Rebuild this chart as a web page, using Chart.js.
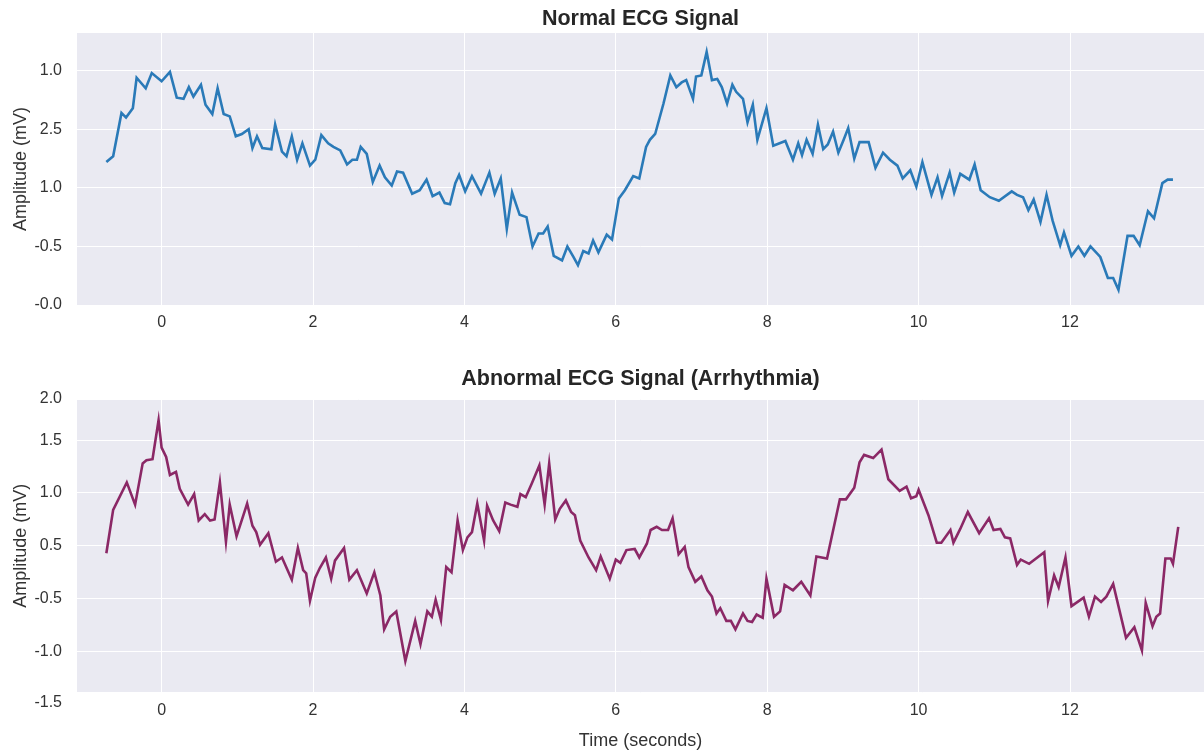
<!DOCTYPE html>
<html>
<head>
<meta charset="utf-8">
<script src="https://cdn.jsdelivr.net/npm/chart.js@4.4.1/dist/chart.umd.min.js"></script>
<style>
  html, body { margin: 0; padding: 0; background: #ffffff; }
  #wrap { position: relative; width: 1204px; height: 753px; overflow: hidden; }
  #top { position: absolute; left: 0; top: 0; }
  #bottom { position: absolute; left: 0; top: 350px; }
</style>
</head>
<body>
<div id="wrap">
  <canvas id="top" width="1204" height="350"></canvas>
  <canvas id="bottom" width="1204" height="403"></canvas>
</div>
<script>
// ---------------- DATA ----------------
const normalTime = [-0.73,-0.64,-0.53,-0.47,-0.38,-0.33,-0.21,-0.13,0.00,0.11,0.20,0.29,0.36,0.42,0.52,0.58,0.67,0.74,0.82,0.90,0.98,1.06,1.15,1.20,1.26,1.33,1.45,1.50,1.59,1.65,1.72,1.79,1.86,1.96,2.03,2.11,2.20,2.27,2.36,2.45,2.52,2.58,2.63,2.71,2.79,2.88,2.95,3.04,3.11,3.19,3.31,3.41,3.50,3.58,3.67,3.74,3.81,3.88,3.93,4.01,4.10,4.22,4.33,4.40,4.48,4.56,4.63,4.73,4.82,4.90,4.98,5.04,5.10,5.18,5.29,5.36,5.44,5.50,5.57,5.64,5.70,5.77,5.88,5.95,6.04,6.12,6.23,6.31,6.40,6.45,6.52,6.63,6.72,6.80,6.87,6.93,7.02,7.06,7.13,7.20,7.27,7.34,7.40,7.47,7.54,7.59,7.68,7.74,7.81,7.87,7.99,8.08,8.24,8.34,8.41,8.46,8.52,8.60,8.67,8.74,8.80,8.87,8.94,9.01,9.07,9.15,9.22,9.34,9.43,9.53,9.62,9.72,9.79,9.89,9.97,10.05,10.17,10.25,10.31,10.41,10.47,10.55,10.67,10.74,10.82,10.94,11.06,11.23,11.30,11.38,11.45,11.52,11.61,11.69,11.77,11.87,11.92,12.02,12.11,12.19,12.27,12.40,12.50,12.57,12.64,12.76,12.84,12.92,13.03,13.11,13.22,13.29,13.36];
const normalAmp = [0.22,0.27,0.64,0.60,0.68,0.94,0.85,0.98,0.91,0.99,0.77,0.76,0.86,0.78,0.88,0.71,0.63,0.85,0.63,0.61,0.44,0.46,0.50,0.34,0.44,0.34,0.33,0.54,0.31,0.27,0.44,0.24,0.38,0.19,0.24,0.45,0.38,0.35,0.32,0.20,0.24,0.24,0.35,0.29,0.05,0.19,0.09,0.02,0.14,0.13,-0.05,-0.02,0.07,-0.07,-0.04,-0.13,-0.14,0.04,0.11,-0.03,0.10,-0.05,0.13,-0.05,0.08,-0.35,-0.04,-0.23,-0.25,-0.50,-0.39,-0.39,-0.33,-0.58,-0.62,-0.50,-0.59,-0.66,-0.54,-0.56,-0.45,-0.55,-0.40,-0.44,-0.09,-0.02,0.10,0.08,0.35,0.41,0.46,0.72,0.96,0.86,0.90,0.92,0.76,0.95,0.96,1.16,0.92,0.93,0.86,0.72,0.88,0.82,0.76,0.56,0.71,0.41,0.68,0.36,0.40,0.24,0.38,0.28,0.41,0.29,0.54,0.33,0.37,0.48,0.30,0.41,0.51,0.25,0.39,0.39,0.17,0.30,0.24,0.19,0.08,0.15,0.01,0.22,-0.06,0.09,-0.07,0.13,-0.04,0.12,0.07,0.20,-0.02,-0.08,-0.11,-0.03,-0.06,-0.08,-0.19,-0.10,-0.29,-0.06,-0.28,-0.49,-0.38,-0.58,-0.50,-0.58,-0.50,-0.59,-0.77,-0.77,-0.87,-0.41,-0.41,-0.49,-0.20,-0.26,0.04,0.07,0.07];

const abnormalTime = [-0.73,-0.64,-0.46,-0.35,-0.25,-0.20,-0.12,-0.04,0.00,0.06,0.11,0.19,0.24,0.35,0.43,0.49,0.57,0.64,0.70,0.77,0.85,0.90,0.99,1.13,1.20,1.25,1.30,1.41,1.51,1.59,1.72,1.80,1.87,1.91,1.96,2.03,2.09,2.17,2.24,2.29,2.41,2.48,2.58,2.71,2.81,2.89,2.94,3.02,3.10,3.22,3.35,3.42,3.51,3.57,3.62,3.69,3.76,3.83,3.91,3.98,4.04,4.10,4.17,4.26,4.30,4.38,4.46,4.54,4.61,4.70,4.74,4.81,4.89,4.99,5.06,5.12,5.20,5.26,5.34,5.41,5.46,5.53,5.64,5.74,5.80,5.92,6.00,6.06,6.14,6.25,6.31,6.41,6.46,6.54,6.61,6.69,6.75,6.83,6.91,6.96,7.05,7.13,7.21,7.27,7.33,7.38,7.46,7.52,7.58,7.68,7.74,7.80,7.86,7.91,7.94,7.99,8.09,8.17,8.23,8.34,8.45,8.57,8.65,8.79,8.96,9.04,9.15,9.22,9.28,9.40,9.51,9.60,9.75,9.84,9.90,9.97,10.00,10.13,10.24,10.30,10.42,10.46,10.55,10.65,10.80,10.93,10.99,11.08,11.14,11.21,11.30,11.35,11.46,11.66,11.71,11.79,11.85,11.94,12.02,12.18,12.25,12.33,12.41,12.48,12.57,12.74,12.85,12.95,13.00,13.09,13.14,13.19,13.26,13.33,13.36,13.43];
const abnormalAmp = [0.43,0.84,1.10,0.89,1.28,1.31,1.32,1.69,1.43,1.34,1.17,1.20,1.04,0.89,0.99,0.74,0.80,0.74,0.75,1.10,0.54,0.89,0.59,0.90,0.69,0.63,0.51,0.62,0.35,0.39,0.18,0.48,0.27,0.24,-0.02,0.20,0.29,0.39,0.19,0.36,0.48,0.18,0.27,0.05,0.25,0.03,-0.29,-0.17,-0.12,-0.59,-0.21,-0.43,-0.12,-0.17,-0.01,-0.20,0.30,0.25,0.74,0.46,0.58,0.63,0.90,0.55,0.88,0.74,0.64,0.91,0.89,0.87,0.99,0.96,1.09,1.26,0.89,1.28,0.75,0.85,0.93,0.82,0.79,0.55,0.39,0.27,0.40,0.19,0.37,0.34,0.46,0.47,0.39,0.52,0.65,0.68,0.65,0.65,0.76,0.42,0.49,0.30,0.16,0.21,0.08,0.02,-0.14,-0.09,-0.21,-0.21,-0.29,-0.14,-0.21,-0.22,-0.15,-0.17,-0.18,0.19,-0.17,-0.12,0.13,0.08,0.16,0.03,0.40,0.38,0.94,0.94,1.05,1.29,1.36,1.33,1.41,1.13,1.02,1.06,0.95,0.97,1.03,0.79,0.53,0.53,0.65,0.53,0.66,0.82,0.62,0.76,0.65,0.66,0.58,0.57,0.32,0.37,0.33,0.44,-0.02,0.22,0.11,0.39,-0.07,0.01,-0.17,0.02,-0.03,0.02,0.14,-0.37,-0.27,-0.49,-0.04,-0.26,-0.17,-0.14,0.38,0.38,0.33,0.68];

const xTicks = [0, 2, 4, 6, 8, 10, 12];
const topYTicks = [-1.0, -0.5, 0.0, 0.5, 1.0];
const topYLabels = ['-0.0', '-0.5', '1.0', '2.5', '1.0'];
const bottomYTicks = [-0.889, -0.5, 0.0, 0.5, 1.0, 1.5, 1.889];
const bottomYLabels = ['-1.5', '-1.0', '-0.5', '0.5', '1.0', '1.5', '2.0'];

const xRange = [-1.1176, 13.770];
const topYRange = [-1.0, 1.322];
const bottomYRange = [-0.889, 1.889];

// ---------------- STYLE ----------------
const FONT = "'Liberation Sans', Arial, sans-serif";
const TEXT = '#333333';

const bgPlugin = {
  id: 'plotBg',
  beforeDraw(chart) {
    const a = chart.chartArea;
    const ctx = chart.ctx;
    ctx.save();
    ctx.fillStyle = '#EAEAF2';
    ctx.fillRect(a.left, a.top, a.right - a.left, a.bottom - a.top);
    ctx.restore();
  }
};

function pts(ts, vs) { return ts.map((t, i) => ({ x: t, y: vs[i] })); }

function makeChart(id, cfg) {
  return new Chart(document.getElementById(id), {
    type: 'line',
    data: {
      datasets: [{
        data: pts(cfg.t, cfg.v),
        borderColor: cfg.color,
        borderWidth: 2.6,
        pointRadius: 0,
        tension: 0,
        fill: false
      }]
    },
    options: {
      responsive: false,
      animation: false,
      devicePixelRatio: 1,
      layout: { padding: 0 },
      plugins: {
        legend: { display: false },
        tooltip: { enabled: false },
        title: {
          display: true,
          fullSize: false,
          text: cfg.title,
          color: '#262626',
          font: { family: FONT, size: 21.5, weight: 'bold' },
          padding: cfg.titlePad
        }
      },
      scales: {
        x: {
          type: 'linear',
          min: xRange[0],
          max: xRange[1],
          afterBuildTicks: s => { s.ticks = xTicks.map(v => ({ value: v })); },
          afterFit: s => { s.height = cfg.xHeight; },
          ticks: {
            autoSkip: false, maxRotation: 0, padding: 8,
            color: TEXT, font: { family: FONT, size: 16 },
            callback: v => String(v)
          },
          grid: { color: '#FFFFFF', lineWidth: 1, drawTicks: false },
          border: { display: false },
          title: cfg.xTitle ? {
            display: true, text: cfg.xTitle, color: TEXT,
            font: { family: FONT, size: 18 }, padding: { top: 0, bottom: 1 }
          } : { display: false }
        },
        y: {
          type: 'linear',
          min: cfg.yRange[0],
          max: cfg.yRange[1],
          afterBuildTicks: s => { s.ticks = cfg.yTicks.map(v => ({ value: v })); },
          afterFit: s => { s.width = 77; },
          ticks: {
            autoSkip: false, padding: 15,
            color: TEXT, font: { family: FONT, size: 16 },
            callback: (v, i) => (cfg.lowLabel && i === 0) ? ['', cfg.yLabels[i]] : cfg.yLabels[i]
          },
          grid: { color: '#FFFFFF', lineWidth: 1, drawTicks: false },
          border: { display: false },
          title: {
            display: true, text: 'Amplitude (mV)', color: TEXT,
            font: { family: FONT, size: 18 }, padding: { top: 10, bottom: 0 }
          }
        }
      }
    },
    plugins: [bgPlugin]
  });
}

makeChart('top', {
  t: normalTime, v: normalAmp, color: '#2A7AB8',
  title: 'Normal ECG Signal',
  titlePad: { top: 6, bottom: 1.2 },
  xHeight: 45,
  yRange: topYRange, yTicks: topYTicks, yLabels: topYLabels,
  lowLabel: false, xTitle: null
});

makeChart('bottom', {
  t: abnormalTime, v: abnormalAmp, color: '#8B2866',
  title: 'Abnormal ECG Signal (Arrhythmia)',
  titlePad: { top: 16, bottom: 7.2 },
  xHeight: 60.3,
  yRange: bottomYRange, yTicks: bottomYTicks, yLabels: bottomYLabels,
  lowLabel: true, xTitle: 'Time (seconds)'
});
</script>
</body>
</html>
